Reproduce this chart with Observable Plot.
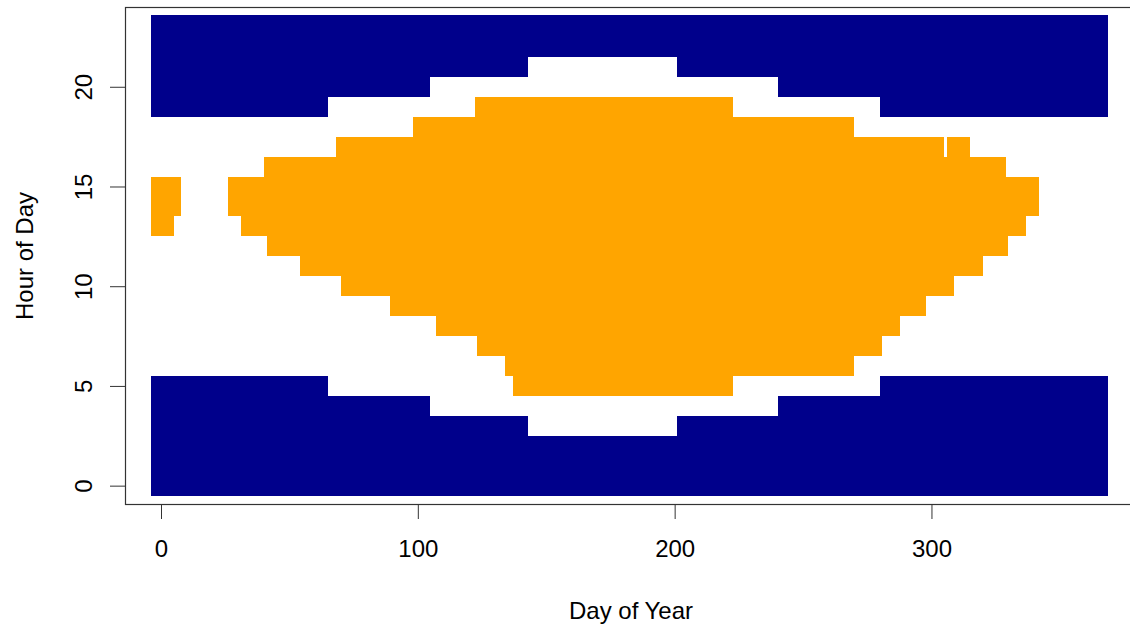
<!DOCTYPE html>
<html>
<head>
<meta charset="utf-8">
<script src="https://cdn.jsdelivr.net/npm/d3@7"></script>
<script src="https://cdn.jsdelivr.net/npm/@observablehq/plot@0.6"></script>
<style>
  html, body { margin: 0; padding: 0; background: #fff; overflow: hidden; }
  #chart svg { max-width: none !important; display: block; }
</style>
</head>
<body>
<div id="chart"></div>
<script>
// Night (navy) segments: day ranges with the last dark morning hour and first dark evening hour
const nightFirstDay = [0, 62, 102, 140, 205, 244, 284];
const nightLastDay  = [61, 101, 139, 204, 243, 283, 365];
const nightEndHour   = [5, 4, 3, 2, 3, 4, 5];
const nightStartHour = [19, 20, 21, 22, 21, 20, 19];

// Sun (orange) runs: hour of day, first day, last day
const sunHour  = [5,   6,   7,   8,   9,   10,  11,  12,  13, 13,  14, 14,  15, 15,  16,  17,  17,  18,  19];
const sunFirst = [141, 138, 127, 111, 93,  74,  58,  45,  0,  35,  0,  30,  0,  30,  44,  72,  310, 102, 126];
const sunLast  = [219, 266, 277, 284, 294, 305, 316, 326, 1,  333, 4,  338, 4,  338, 325, 301, 311, 266, 219];

const xTicks = [0, 100, 200, 300];
const yTicks = [0, 5, 10, 15, 20];
const xTitle = "Day of Year";
const yTitle = "Hour of Day";

const halfDay = 3.9;  // half width of each plotted square marker, in days
const halfHour = 0.5;

const nightRects = [];
nightFirstDay.forEach((d, i) => {
  nightRects.push({x1: d - halfDay, x2: nightLastDay[i] + halfDay, y1: -halfHour, y2: nightEndHour[i] + halfHour});
  nightRects.push({x1: d - halfDay, x2: nightLastDay[i] + halfDay, y1: nightStartHour[i] - halfHour, y2: 23 + halfHour + 0.1});
});
const sunRects = sunHour.map((h, i) => ({
  x1: sunFirst[i] - halfDay, x2: sunLast[i] + halfDay, y1: h - halfHour, y2: h + halfHour
}));

const plot = Plot.plot({
  width: 1140,
  height: 624,
  marginLeft: 125,
  marginRight: 0,
  marginTop: 7,
  marginBottom: 120,
  style: {fontFamily: "'Liberation Sans', Arial, sans-serif", fontSize: "24px", background: "#fff", color: "#000"},
  x: {domain: [-14.02, 381.2], label: null},
  y: {domain: [-0.92, 24.0], label: null},
  marks: [
    Plot.rect(nightRects, {x1: "x1", x2: "x2", y1: "y1", y2: "y2", fill: "#00008B", shapeRendering: "crispEdges"}),
    Plot.rect(sunRects, {x1: "x1", x2: "x2", y1: "y1", y2: "y2", fill: "#FFA500", shapeRendering: "crispEdges"}),
    Plot.frame({stroke: "#333", strokeWidth: 1.2}),
    Plot.axisX({ticks: xTicks, tickSize: 15, tickPadding: 20, stroke: "#333", label: null, fontSize: 24}),
    Plot.axisY({ticks: yTicks, tickSize: 15, tickFormat: () => "", stroke: "#333", label: null}),
    Plot.text(yTicks, {y: d => d, text: d => String(d), frameAnchor: "left", rotate: -90,
      textAnchor: "middle", lineAnchor: "bottom", dx: -34, fontSize: 24, fill: "#000"}),
    Plot.text([yTitle], {text: d => d, frameAnchor: "left", rotate: -90,
      textAnchor: "middle", lineAnchor: "bottom", dx: -93, fontSize: 24, fill: "#000"}),
    Plot.text([xTitle], {text: d => d, frameAnchor: "bottom", textAnchor: "middle",
      lineAnchor: "bottom", dx: -2, dy: 114, fontSize: 24, fill: "#000"})
  ]
});
document.getElementById("chart").appendChild(plot);
</script>
</body>
</html>
